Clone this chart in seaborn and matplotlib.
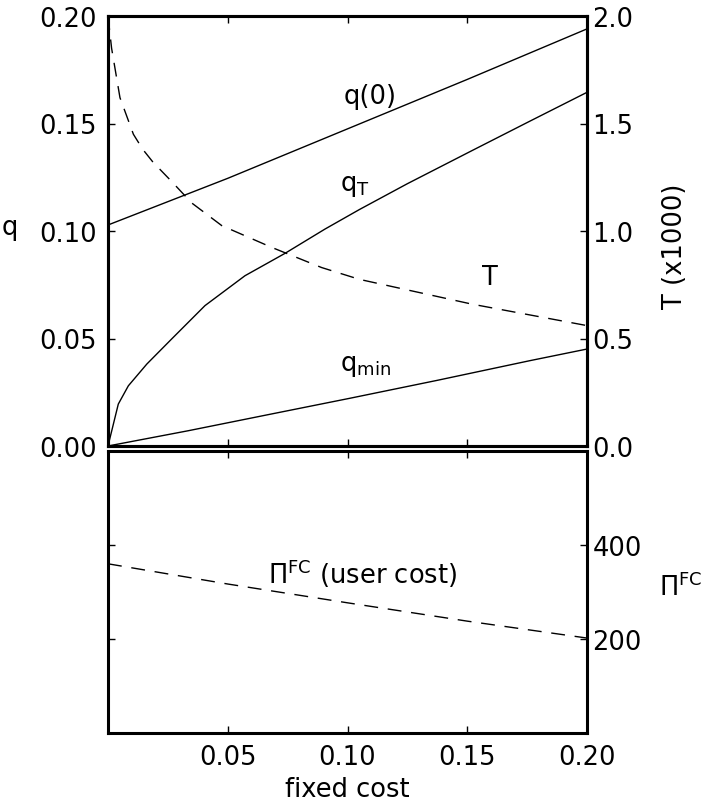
import seaborn as sns
import matplotlib.pyplot as plt

# values
fc_q0 = [0.0, 0.05, 0.10, 0.15, 0.20]
q0 = [0.1028, 0.1245, 0.1475, 0.1705, 0.194]

fc_qT = [0.0, 0.0043, 0.0085, 0.0162, 0.0266, 0.0405, 0.0572, 0.0739, 0.0906, 0.105, 0.125, 0.152, 0.176, 0.20]
qT = [0.0, 0.0195, 0.028, 0.0381, 0.0498, 0.0653, 0.0792, 0.0896, 0.1009, 0.110, 0.122, 0.1374, 0.151, 0.1645]

fc_qmin = [0.0, 0.0335, 0.0683, 0.101, 0.1373, 0.1762, 0.20]
qmin = [0.0, 0.0071, 0.0149, 0.0222, 0.0305, 0.0397, 0.0451]

fc_T = [0.0, 0.0015, 0.005, 0.0106, 0.0145, 0.0188, 0.0266, 0.035, 0.0475, 0.0683, 0.0892, 0.105, 0.1519, 0.20]
T = [2.0, 1.85, 1.62, 1.45, 1.38, 1.32, 1.23, 1.13, 1.025, 0.924, 0.83, 0.775, 0.66, 0.56]

fc_pi = [0.0, 0.05, 0.10, 0.15, 0.20]
pi_fc = [360, 317, 277, 238, 202]

q_ticks = [0.0, 0.05, 0.10, 0.15, 0.20]
q_labels = ["0.00", "0.05", "0.10", "0.15", "0.20"]
T_ticks = [0.0, 0.5, 1.0, 1.5, 2.0]
T_labels = ["0.0", "0.5", "1.0", "1.5", "2.0"]
pi_ticks = [200, 400]
pi_labels = ["200", "400"]
x_ticks = [0.05, 0.10, 0.15, 0.20]
x_labels = ["0.05", "0.10", "0.15", "0.20"]

sns.set_theme(style="white")
plt.rcParams["font.family"] = ["DejaVu Sans"]
plt.rcParams["mathtext.fontset"] = "dejavusans"
plt.rcParams["text.color"] = "black"
fs = 18.5
dash = (0, (10, 7))

fig = plt.figure(figsize=(7.09, 8.03), dpi=100)
W, H = 709, 803
ax1 = fig.add_axes([108 / W, 1 - 447 / H, 479 / W, 430 / H])
ax2 = fig.add_axes([108 / W, 1 - 734 / H, 479 / W, 282 / H])
ax1t = ax1.twinx()

# top panel
sns.lineplot(x=fc_q0, y=q0, ax=ax1, color="black", linewidth=1)
sns.lineplot(x=fc_qT, y=qT, ax=ax1, color="black", linewidth=1)
sns.lineplot(x=fc_qmin, y=qmin, ax=ax1, color="black", linewidth=1)
sns.lineplot(x=fc_T, y=T, ax=ax1t, color="black", linewidth=1)
ax1t.lines[-1].set_linestyle(dash)

ax1.set_xlim(0, 0.2)
ax1.set_ylim(0, 0.2)
ax1t.set_ylim(0, 2.0)
ax1.set_xticks([0.05, 0.10, 0.15])
ax1.set_yticks(q_ticks, q_labels)
ax1t.set_yticks(T_ticks, T_labels)
ax1.tick_params(axis="x", direction="in", top=True, bottom=True, labelbottom=False, length=5, width=1, color="black")
ax1.tick_params(axis="y", direction="in", left=True, right=False, length=5, width=1, color="black",
                labelsize=fs, pad=8, labelcolor="black")
ax1t.tick_params(axis="y", direction="in", right=True, length=5, width=1, color="black",
                 labelsize=fs, pad=4, labelcolor="black")
ax1.set_xlabel("")
ax1.set_ylabel("")

ax1.text(0.1094, 0.1628, "q(0)", fontsize=fs, ha="center", va="center", color="black")
ax1.text(0.097, 0.1215, r"q$_{\rm T}$", fontsize=fs, ha="left", va="center", color="black")
ax1.text(0.1593, 0.0786, "T", fontsize=fs, ha="center", va="center", color="black")
ax1.text(0.097, 0.0375, r"q$_{\rm min}$", fontsize=fs, ha="left", va="center", color="black")

# bottom panel
sns.lineplot(x=fc_pi, y=pi_fc, ax=ax2, color="black", linewidth=1)
ax2.lines[-1].set_linestyle(dash)
ax2.set_xlim(0, 0.2)
ax2.set_ylim(0, 600)
ax2.set_xticks(x_ticks, x_labels)
ax2.set_yticks(pi_ticks, pi_labels)
ax2.tick_params(axis="x", direction="in", top=True, bottom=True, length=5, width=1, color="black",
                labelsize=fs, pad=8, labelcolor="black")
ax2.tick_params(axis="y", direction="in", left=True, right=True, labelleft=False, labelright=True,
                length=5, width=1, color="black", labelsize=fs, pad=4, labelcolor="black")
ax2.set_xlabel("fixed cost", fontsize=fs, labelpad=4, color="black")
ax2.set_ylabel("")
ax2.text(0.1065, 342, r"$\Pi^{\rm FC}$ (user cost)", fontsize=fs, ha="center", va="center", color="black")

for a in (ax1, ax1t, ax2):
    for s in a.spines.values():
        s.set_color("black")
        s.set_linewidth(2.2)
        s.set_visible(True)

fig.text(10 / W, 1 - 228 / H, "q", fontsize=fs, ha="center", va="center", color="black")
fig.text(675 / W, 1 - 246 / H, "T (x1000)", fontsize=fs, ha="center", va="center", rotation=90, color="black")
fig.text(681 / W, 1 - 588 / H, r"$\Pi^{\rm FC}$", fontsize=fs, ha="center", va="center", color="black")

fig.savefig("out.png", dpi=100, facecolor="white")
